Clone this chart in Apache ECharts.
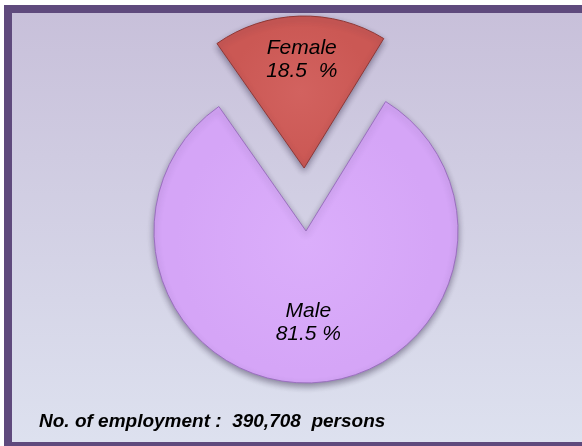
<!DOCTYPE html>
<html>
<head>
<meta charset="utf-8">
<script src="https://cdn.jsdelivr.net/npm/echarts@6/dist/echarts.min.js"></script>
<style>
  html, body { margin: 0; padding: 0; background: #fff; overflow: hidden; }
  #wrap { position: relative; width: 582px; height: 446px; overflow: hidden; }
  #frame {
    position: absolute; left: 4px; top: 5px; width: 620px; height: 429px;
    border-left: 8px solid #5f4a7d; border-top: 8px solid #5f4a7d; border-bottom: 4px solid #5f4a7d;
    background: linear-gradient(to bottom, #c8c0da, #dde1ef);
  }
  #chart { position: absolute; left: 0; top: 0; width: 582px; height: 446px; }
</style>
</head>
<body>
<div id="wrap">
  <div id="frame"></div>
  <div id="chart"></div>
</div>
<script>
// data
var categories = ['Female', 'Male']
var shares = [18.5, 81.5]
var shareLabels = ['18.5  %', '81.5 %']
var totalEmployment = '390,708'

var sliceColors = {
  Female: ['#d2625f', '#cb5854', '#8e3735'],
  Male: ['#dbaefb', '#d5a5f7', '#9a6fbf']
}

function sliceStyle(name) {
  var c = sliceColors[name]
  return {
    color: {
      type: 'radial', x: 0.5, y: 0.5, r: 0.5,
      colorStops: [
        { offset: 0, color: c[0] },
        { offset: 0.92, color: c[1] },
        { offset: 1, color: c[1] }
      ]
    },
    borderColor: c[2],
    borderWidth: 1,
    shadowBlur: 6,
    shadowOffsetY: 3,
    shadowColor: 'rgba(40,30,60,0.45)'
  }
}

// spacer lines push the label text away from the slice's mid radius
function labelText(name, i) {
  var body = '{t|' + name + '}\n{t|' + shareLabels[i] + '}'
  return name === 'Female' ? body + '\n{up| }' : '{down| }\n' + body
}

var chart = echarts.init(document.getElementById('chart'))

chart.setOption({
  backgroundColor: 'transparent',
  animation: false,
  graphic: [{
    type: 'text',
    left: 39,
    top: 412,
    style: {
      text: 'No. of employment :  ' + totalEmployment + '  persons',
      font: 'italic bold 19px "Liberation Sans", Arial, sans-serif',
      fill: '#000'
    }
  }],
  series: [{
    type: 'pie',
    center: [306, 231],
    radius: 152,
    startAngle: 125,
    selectedMode: 'single',
    selectedOffset: 63,
    labelLine: { show: false },
    emphasis: { disabled: true },
    data: categories.map(function (name, i) {
      return {
        name: name,
        value: shares[i],
        selected: name === 'Female',
        itemStyle: sliceStyle(name),
        label: {
          show: true,
          position: 'inside',
          formatter: labelText(name, i),
          rich: {
            t: {
              color: '#000',
              fontFamily: '"Liberation Sans", Arial, sans-serif',
              fontStyle: 'italic',
              fontSize: 21,
              lineHeight: 23
            },
            up: { fontSize: 1, lineHeight: 58 },
            down: { fontSize: 1, lineHeight: 26 }
          }
        }
      }
    })
  }]
})
</script>
</body>
</html>
